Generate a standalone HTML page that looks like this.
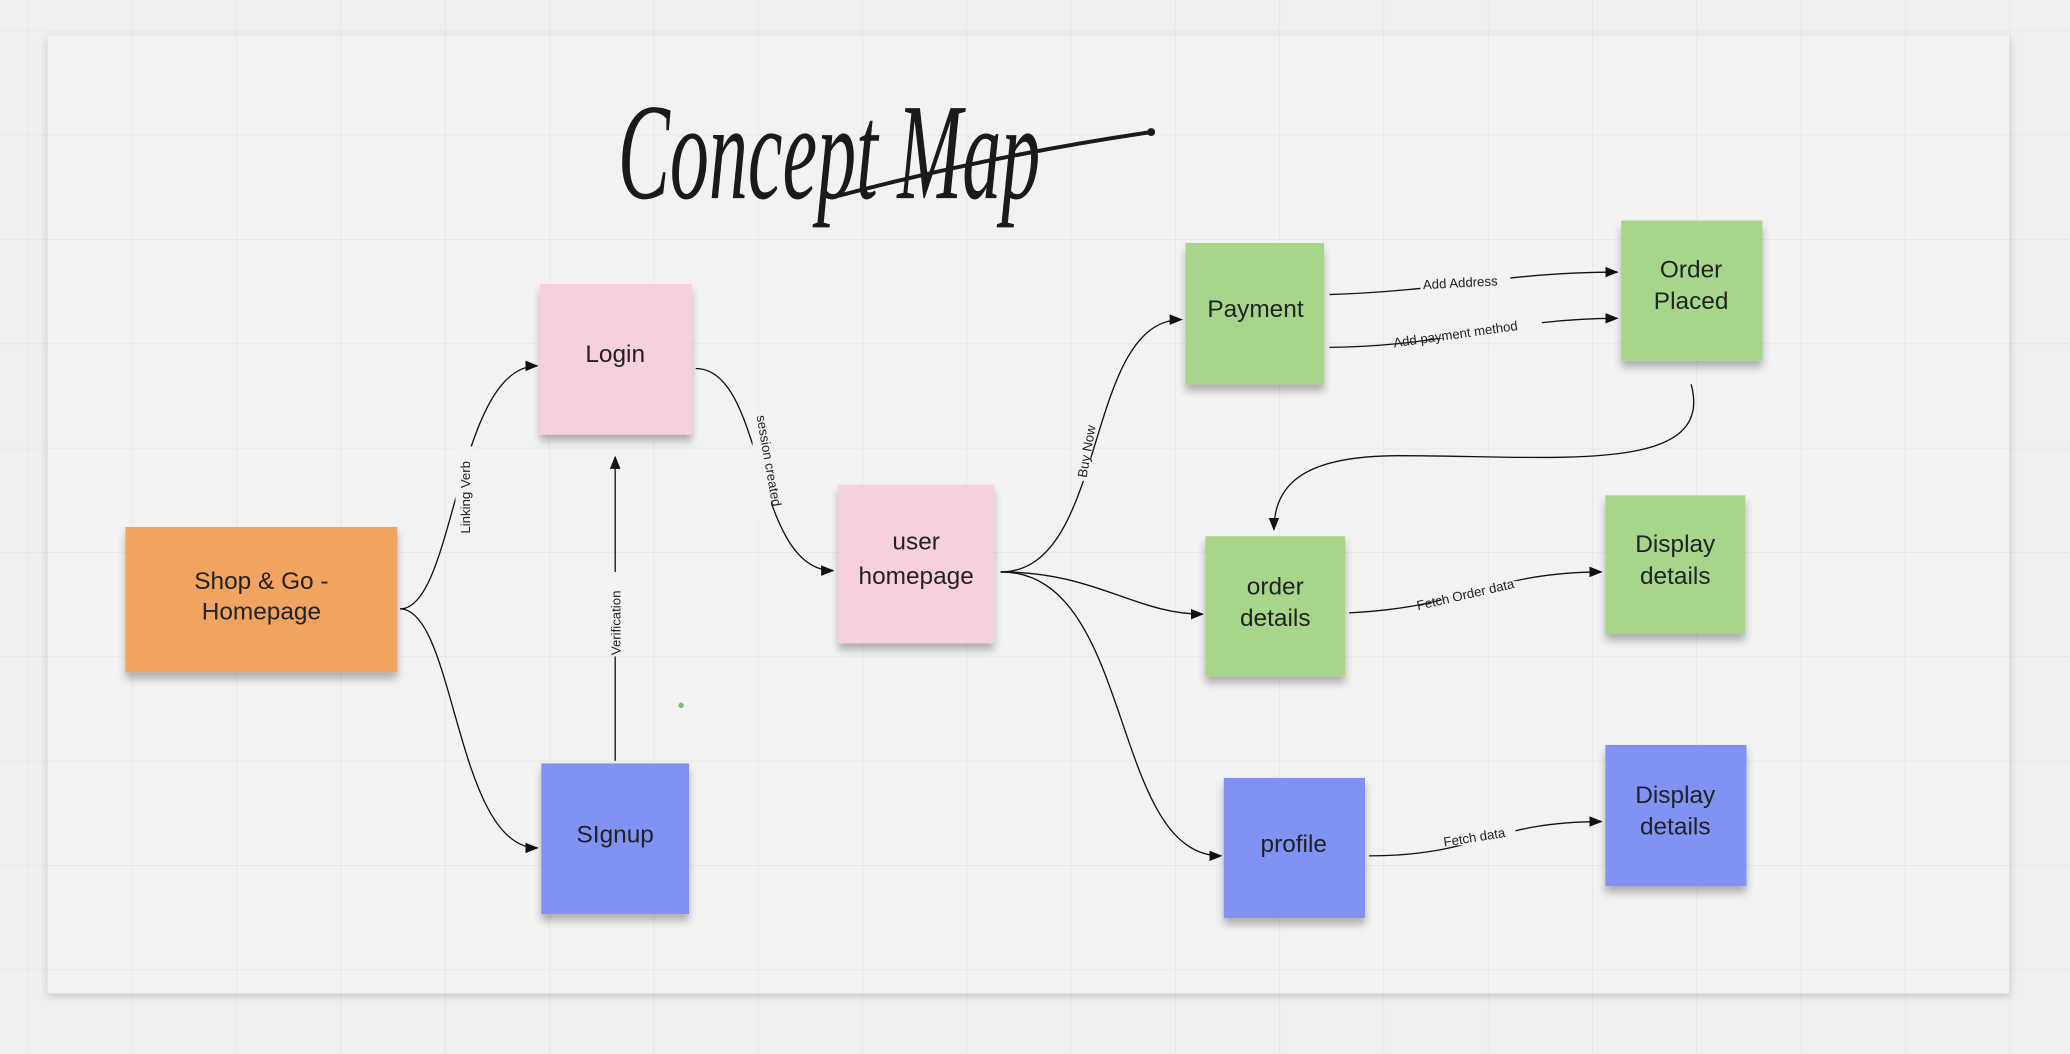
<!DOCTYPE html>
<html><head><meta charset="utf-8"><style>
html,body{margin:0;padding:0;background:#efefef;}
svg{display:block}
text{font-family:"Liberation Sans","DejaVu Sans",sans-serif;fill:#222}
.lbl{font-size:10px;}
.n{font-size:18.5px;text-anchor:middle}
</style></head><body>
<svg width="2070" height="1054" viewBox="0 0 1568 798" preserveAspectRatio="none" xmlns="http://www.w3.org/2000/svg">
<defs>
<pattern id="g" x="21" y="23" width="79" height="79" patternUnits="userSpaceOnUse">
<path d="M0 0H79M0 0V79" stroke="#e2e2e2" stroke-width="1" fill="none"/>
</pattern>
<filter id="bs" x="-10%" y="-10%" width="130%" height="140%"><feDropShadow dx="0" dy="2" stdDeviation="3" flood-color="#000" flood-opacity="0.18"/></filter>
<filter id="st" x="-10%" y="-10%" width="120%" height="130%"><feDropShadow dx="0" dy="5" stdDeviation="3" flood-color="#000" flood-opacity="0.28"/></filter>
<marker id="a" markerWidth="10" markerHeight="8" refX="9" refY="4" orient="auto" markerUnits="userSpaceOnUse"><path d="M0 0L10 4L0 8Z" fill="#111"/></marker>
</defs>
<rect width="1568" height="798" fill="#efefef"/>
<rect width="1568" height="798" fill="url(#g)"/>
<rect x="36" y="27" width="1486" height="725" fill="#f2f2f2" filter="url(#bs)"/>
<rect x="36" y="27" width="1486" height="725" fill="url(#g)"/>

<!-- title -->
<text x="468" y="150" style="font-family:'Liberation Serif',serif;font-style:italic;font-size:104px;fill:#1a1a1a" textLength="320" lengthAdjust="spacingAndGlyphs">Concept Map</text>
<path d="M636 148 Q750 118 872 100" stroke="#1a1a1a" stroke-width="3" fill="none" stroke-linecap="round"/>
<circle cx="872" cy="100" r="3" fill="#1a1a1a"/>

<!-- connectors -->
<g stroke="#111" stroke-width="1" fill="none" marker-end="url(#a)">
<path d="M303 461 C345 461 345 277 407 277"/>
<path d="M303 461 C345 461 345 642 407 642"/>
<path d="M466 576 V346"/>
<path d="M527 279 C580 279 570 432 631 432"/>
<path d="M758 433 C840 433 820 242 895 242"/>
<path d="M758 433 C830 433 860 465 911 465"/>
<path d="M758 433 C860 433 840 648 925 648"/>
<path d="M1007 223 C1100 220 1140 206 1225 206"/>
<path d="M1007 263 C1100 262 1140 241 1225 241"/>
<path d="M1281 291 C1300 360 1180 345 1060 345 C990 345 965 365 965 401"/>
<path d="M1022 464 C1110 460 1130 433 1213 433"/>
<path d="M1037 648 C1120 648 1130 622 1213 622"/>
</g>
<!-- connector labels -->
<g class="lbl">
<rect x="345" y="338" width="14" height="68" fill="#f2f2f2"/>
<text class="lbl" transform="translate(356,404) rotate(-90)">Linking Verb</text>
<rect x="459" y="433" width="14" height="64" fill="#f2f2f2"/>
<text class="lbl" transform="translate(470,496) rotate(-90)">Verification</text>
<rect x="570" y="313" width="14" height="82" fill="#f2f2f2"/>
<text class="lbl" transform="translate(573,315) rotate(80)">session created</text>
<rect x="812" y="316" width="14" height="48" fill="#f2f2f2"/>
<text class="lbl" transform="translate(823,362) rotate(-80)">Buy Now</text>
<rect x="1076" y="206" width="68" height="14" fill="#f2f2f2"/>
<text class="lbl" transform="translate(1078,219) rotate(-3)">Add Address</text>
<rect x="1054" y="242" width="114" height="14" fill="#f2f2f2"/>
<text class="lbl" transform="translate(1056,263) rotate(-8)">Add payment method</text>
<rect x="1072" y="440" width="88" height="14" fill="#f2f2f2"/>
<text class="lbl" transform="translate(1074,462) rotate(-13)">Fetch Order data</text>
<rect x="1092" y="626" width="56" height="14" fill="#f2f2f2"/>
<text class="lbl" transform="translate(1094,641) rotate(-9)">Fetch data</text>
</g>
<circle cx="516" cy="534" r="2" fill="#6cc46c"/>

<!-- stickies -->
<g filter="url(#st)">
<rect x="95" y="399" width="206" height="110" fill="#f0a45e"/>
<rect x="409" y="215" width="115" height="114" fill="#f7d0e0"/>
<rect x="410" y="578" width="112" height="114" fill="#8093f5"/>
<rect x="635" y="367" width="118" height="120" fill="#f7d0e0"/>
<rect x="898" y="184" width="105" height="107" fill="#a7d68a"/>
<rect x="1228" y="167" width="107" height="106" fill="#a7d68a"/>
<rect x="913" y="406" width="106" height="106" fill="#a7d68a"/>
<rect x="1216" y="375" width="106" height="105" fill="#a7d68a"/>
<rect x="927" y="589" width="107" height="106" fill="#8093f5"/>
<rect x="1216" y="564" width="107" height="107" fill="#8093f5"/>
</g>
<text class="n" x="198" y="446">Shop &amp; Go -</text>
<text class="n" x="198" y="469">Homepage</text>
<text class="n" x="466" y="274">Login</text>
<text class="n" x="466" y="638">SIgnup</text>
<text class="n" x="694" y="416">user</text>
<text class="n" x="694" y="442">homepage</text>
<text class="n" x="951" y="240">Payment</text>
<text class="n" x="1281" y="210">Order</text>
<text class="n" x="1281" y="234">Placed</text>
<text class="n" x="966" y="450">order</text>
<text class="n" x="966" y="474">details</text>
<text class="n" x="1269" y="418">Display</text>
<text class="n" x="1269" y="442">details</text>
<text class="n" x="980" y="645">profile</text>
<text class="n" x="1269" y="608">Display</text>
<text class="n" x="1269" y="632">details</text>
</svg>
</body></html>
